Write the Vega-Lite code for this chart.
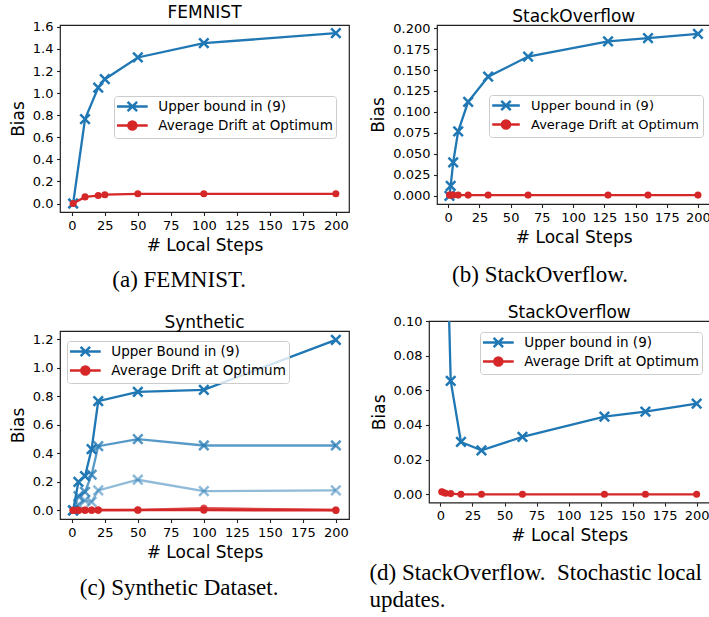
{
  "$schema": "https://vega.github.io/schema/vega-lite/v6.json",
  "background": "white",
  "padding": {"left": 8, "top": 3, "right": 0, "bottom": 0},
  "datasets": {
    "femnist": [
      {"steps": 1, "bias": 0.0, "series": "Upper bound in (9)"},
      {"steps": 10, "bias": 0.764, "series": "Upper bound in (9)"},
      {"steps": 20, "bias": 1.05, "series": "Upper bound in (9)"},
      {"steps": 25, "bias": 1.126, "series": "Upper bound in (9)"},
      {"steps": 50, "bias": 1.323, "series": "Upper bound in (9)"},
      {"steps": 100, "bias": 1.452, "series": "Upper bound in (9)"},
      {"steps": 200, "bias": 1.543, "series": "Upper bound in (9)"},
      {"steps": 1, "bias": 0.0, "series": "Average Drift at Optimum"},
      {"steps": 10, "bias": 0.06, "series": "Average Drift at Optimum"},
      {"steps": 20, "bias": 0.072, "series": "Average Drift at Optimum"},
      {"steps": 25, "bias": 0.08, "series": "Average Drift at Optimum"},
      {"steps": 50, "bias": 0.088, "series": "Average Drift at Optimum"},
      {"steps": 100, "bias": 0.088, "series": "Average Drift at Optimum"},
      {"steps": 200, "bias": 0.088, "series": "Average Drift at Optimum"}
    ],
    "stack": [
      {"steps": 1, "bias": 0.0, "series": "Upper bound in (9)"},
      {"steps": 2, "bias": 0.012, "series": "Upper bound in (9)"},
      {"steps": 4, "bias": 0.040, "series": "Upper bound in (9)"},
      {"steps": 8, "bias": 0.077, "series": "Upper bound in (9)"},
      {"steps": 16, "bias": 0.112, "series": "Upper bound in (9)"},
      {"steps": 32, "bias": 0.142, "series": "Upper bound in (9)"},
      {"steps": 64, "bias": 0.166, "series": "Upper bound in (9)"},
      {"steps": 128, "bias": 0.184, "series": "Upper bound in (9)"},
      {"steps": 160, "bias": 0.188, "series": "Upper bound in (9)"},
      {"steps": 200, "bias": 0.193, "series": "Upper bound in (9)"},
      {"steps": 1, "bias": 0.001, "series": "Average Drift at Optimum"},
      {"steps": 2, "bias": 0.001, "series": "Average Drift at Optimum"},
      {"steps": 4, "bias": 0.001, "series": "Average Drift at Optimum"},
      {"steps": 8, "bias": 0.001, "series": "Average Drift at Optimum"},
      {"steps": 16, "bias": 0.001, "series": "Average Drift at Optimum"},
      {"steps": 32, "bias": 0.001, "series": "Average Drift at Optimum"},
      {"steps": 64, "bias": 0.001, "series": "Average Drift at Optimum"},
      {"steps": 128, "bias": 0.001, "series": "Average Drift at Optimum"},
      {"steps": 160, "bias": 0.001, "series": "Average Drift at Optimum"},
      {"steps": 200, "bias": 0.001, "series": "Average Drift at Optimum"}
    ],
    "synthetic": [
      {"steps": 1, "bias": 0.0, "series": "Upper Bound in (9)", "run": "C"},
      {"steps": 5, "bias": 0.04, "series": "Upper Bound in (9)", "run": "C"},
      {"steps": 10, "bias": 0.07, "series": "Upper Bound in (9)", "run": "C"},
      {"steps": 15, "bias": 0.06, "series": "Upper Bound in (9)", "run": "C"},
      {"steps": 20, "bias": 0.14, "series": "Upper Bound in (9)", "run": "C"},
      {"steps": 50, "bias": 0.215, "series": "Upper Bound in (9)", "run": "C"},
      {"steps": 100, "bias": 0.135, "series": "Upper Bound in (9)", "run": "C"},
      {"steps": 200, "bias": 0.14, "series": "Upper Bound in (9)", "run": "C"},
      {"steps": 1, "bias": 0.0, "series": "Upper Bound in (9)", "run": "B"},
      {"steps": 5, "bias": 0.10, "series": "Upper Bound in (9)", "run": "B"},
      {"steps": 10, "bias": 0.13, "series": "Upper Bound in (9)", "run": "B"},
      {"steps": 15, "bias": 0.25, "series": "Upper Bound in (9)", "run": "B"},
      {"steps": 20, "bias": 0.45, "series": "Upper Bound in (9)", "run": "B"},
      {"steps": 50, "bias": 0.50, "series": "Upper Bound in (9)", "run": "B"},
      {"steps": 100, "bias": 0.455, "series": "Upper Bound in (9)", "run": "B"},
      {"steps": 200, "bias": 0.455, "series": "Upper Bound in (9)", "run": "B"},
      {"steps": 1, "bias": 0.0, "series": "Upper Bound in (9)", "run": "A"},
      {"steps": 5, "bias": 0.20, "series": "Upper Bound in (9)", "run": "A"},
      {"steps": 10, "bias": 0.24, "series": "Upper Bound in (9)", "run": "A"},
      {"steps": 15, "bias": 0.43, "series": "Upper Bound in (9)", "run": "A"},
      {"steps": 20, "bias": 0.765, "series": "Upper Bound in (9)", "run": "A"},
      {"steps": 50, "bias": 0.83, "series": "Upper Bound in (9)", "run": "A"},
      {"steps": 100, "bias": 0.845, "series": "Upper Bound in (9)", "run": "A"},
      {"steps": 200, "bias": 1.195, "series": "Upper Bound in (9)", "run": "A"},
      {"steps": 1, "bias": 0.002, "series": "Average Drift at Optimum", "run": "C"},
      {"steps": 5, "bias": 0.002, "series": "Average Drift at Optimum", "run": "C"},
      {"steps": 10, "bias": 0.002, "series": "Average Drift at Optimum", "run": "C"},
      {"steps": 15, "bias": 0.003, "series": "Average Drift at Optimum", "run": "C"},
      {"steps": 20, "bias": 0.003, "series": "Average Drift at Optimum", "run": "C"},
      {"steps": 50, "bias": 0.004, "series": "Average Drift at Optimum", "run": "C"},
      {"steps": 100, "bias": 0.012, "series": "Average Drift at Optimum", "run": "C"},
      {"steps": 200, "bias": 0.004, "series": "Average Drift at Optimum", "run": "C"},
      {"steps": 1, "bias": 0.001, "series": "Average Drift at Optimum", "run": "B"},
      {"steps": 5, "bias": 0.002, "series": "Average Drift at Optimum", "run": "B"},
      {"steps": 10, "bias": 0.002, "series": "Average Drift at Optimum", "run": "B"},
      {"steps": 15, "bias": 0.002, "series": "Average Drift at Optimum", "run": "B"},
      {"steps": 20, "bias": 0.003, "series": "Average Drift at Optimum", "run": "B"},
      {"steps": 50, "bias": 0.003, "series": "Average Drift at Optimum", "run": "B"},
      {"steps": 100, "bias": 0.016, "series": "Average Drift at Optimum", "run": "B"},
      {"steps": 200, "bias": 0.003, "series": "Average Drift at Optimum", "run": "B"},
      {"steps": 1, "bias": 0.0, "series": "Average Drift at Optimum", "run": "A"},
      {"steps": 5, "bias": 0.0, "series": "Average Drift at Optimum", "run": "A"},
      {"steps": 10, "bias": 0.001, "series": "Average Drift at Optimum", "run": "A"},
      {"steps": 15, "bias": 0.001, "series": "Average Drift at Optimum", "run": "A"},
      {"steps": 20, "bias": 0.002, "series": "Average Drift at Optimum", "run": "A"},
      {"steps": 50, "bias": 0.002, "series": "Average Drift at Optimum", "run": "A"},
      {"steps": 100, "bias": 0.002, "series": "Average Drift at Optimum", "run": "A"},
      {"steps": 200, "bias": 0.0, "series": "Average Drift at Optimum", "run": "A"}
    ],
    "stoch": [
      {"steps": 1, "bias": 0.6, "series": "Upper bound in (9)"},
      {"steps": 2, "bias": 0.35, "series": "Upper bound in (9)"},
      {"steps": 4, "bias": 0.18, "series": "Upper bound in (9)"},
      {"steps": 8, "bias": 0.0654, "series": "Upper bound in (9)"},
      {"steps": 16, "bias": 0.0302, "series": "Upper bound in (9)"},
      {"steps": 32, "bias": 0.0254, "series": "Upper bound in (9)"},
      {"steps": 64, "bias": 0.0331, "series": "Upper bound in (9)"},
      {"steps": 128, "bias": 0.0448, "series": "Upper bound in (9)"},
      {"steps": 160, "bias": 0.0477, "series": "Upper bound in (9)"},
      {"steps": 200, "bias": 0.0523, "series": "Upper bound in (9)"},
      {"steps": 1, "bias": 0.0015, "series": "Average Drift at Optimum"},
      {"steps": 2, "bias": 0.0012, "series": "Average Drift at Optimum"},
      {"steps": 4, "bias": 0.0006, "series": "Average Drift at Optimum"},
      {"steps": 8, "bias": 0.0004, "series": "Average Drift at Optimum"},
      {"steps": 16, "bias": 0.0, "series": "Average Drift at Optimum"},
      {"steps": 32, "bias": 0.0, "series": "Average Drift at Optimum"},
      {"steps": 64, "bias": 0.0, "series": "Average Drift at Optimum"},
      {"steps": 128, "bias": 0.0, "series": "Average Drift at Optimum"},
      {"steps": 160, "bias": 0.0, "series": "Average Drift at Optimum"},
      {"steps": 200, "bias": 0.0, "series": "Average Drift at Optimum"}
    ]
  },
  "concat": [
    {
      "title": {"text": "(a) FEMNIST.", "orient": "bottom", "anchor": "middle", "frame": "bounds", "font": "Liberation Serif", "fontSize": 23, "fontWeight": "normal", "color": "black", "offset": 15},
      "resolve": {"scale": {"color": "independent"}, "legend": {"color": "independent"}},
      "vconcat": [
        {
          "width": 289, "height": 187,
          "title": {"text": "FEMNIST", "offset": -1.3},
          "data": {"name": "femnist"},
          "encoding": {
            "x": {"field": "steps", "type": "quantitative", "scale": {"domain": [-8.95, 209.95], "nice": false, "zero": false}, "axis": {"values": [0, 25, 50, 75, 100, 125, 150, 175, 200], "title": "# Local Steps"}},
            "y": {"field": "bias", "type": "quantitative", "scale": {"domain": [-0.077, 1.617], "nice": false, "zero": false}, "axis": {"values": [0, 0.2, 0.4, 0.6, 0.8, 1.0, 1.2, 1.4, 1.6], "format": ".1f", "title": "Bias"}},
            "color": {"field": "series", "type": "nominal", "scale": {"domain": ["Upper bound in (9)", "Average Drift at Optimum"], "range": ["#1f77b4", "#d62728"]},
              "legend": {"legendX": 54, "legendY": 71,
                "encode": {"symbols": {"update": {
                  "shape": {"signal": "datum.value === 'Average Drift at Optimum' ? 'M-2.56,0L2.56,0M0.667,0A0.667,0.667,0,1,1,-0.667,0A0.667,0.667,0,1,1,0.667,0Z' : 'M-2.56,0L2.56,0M-0.79,-0.79L0.79,0.79M-0.79,0.79L0.79,-0.79'"},
                  "fill": {"signal": "datum.value === 'Average Drift at Optimum' ? '#d62728' : 'transparent'"},
                  "stroke": {"signal": "datum.value === 'Average Drift at Optimum' ? '#d62728' : '#1f77b4'"},
                  "x": {"value": 15.35}, "opacity": {"value": 1}}}}}}
          },
          "layer": [
            {"transform": [{"filter": "datum.series === 'Upper bound in (9)'"}], "mark": {"type": "line", "strokeWidth": 2.3}},
            {"transform": [{"filter": "datum.series === 'Upper bound in (9)'"}], "mark": {"type": "point", "shape": "M-1,-1L1,1M-1,1L1,-1", "size": 90, "filled": false, "strokeWidth": 2.5, "opacity": 1}},
            {"transform": [{"filter": "datum.series === 'Average Drift at Optimum'"}], "mark": {"type": "line", "strokeWidth": 2.3}},
            {"transform": [{"filter": "datum.series === 'Average Drift at Optimum'"}], "mark": {"type": "point", "shape": "circle", "size": 50, "filled": true, "opacity": 1}}
          ]
        }
      ]
    },
    {
      "title": {"text": "(b) StackOverflow.", "orient": "bottom", "anchor": "middle", "frame": "bounds", "font": "Liberation Serif", "fontSize": 23, "fontWeight": "normal", "color": "black", "offset": 18},
      "resolve": {"scale": {"color": "independent"}, "legend": {"color": "independent"}},
      "vconcat": [
        {
          "width": 273.4, "height": 179,
          "title": {"text": "StackOverflow", "offset": -3.5},
          "data": {"name": "stack"},
          "encoding": {
            "x": {"field": "steps", "type": "quantitative", "scale": {"domain": [-8.95, 209.95], "nice": false, "zero": false}, "axis": {"values": [0, 25, 50, 75, 100, 125, 150, 175, 200], "title": "# Local Steps"}},
            "y": {"field": "bias", "type": "quantitative", "scale": {"domain": [-0.0096, 0.2036], "nice": false, "zero": false}, "axis": {"values": [0, 0.025, 0.05, 0.075, 0.1, 0.125, 0.15, 0.175, 0.2], "format": ".3f", "title": "Bias"}},
            "color": {"field": "series", "type": "nominal", "scale": {"domain": ["Upper bound in (9)", "Average Drift at Optimum"], "range": ["#1f77b4", "#d62728"]},
              "legend": {"legendX": 52, "legendY": 70, "labelFontSize": 13, "labelOffset": 24,
                "encode": {"symbols": {"update": {
                  "shape": {"signal": "datum.value === 'Average Drift at Optimum' ? 'M-2.3,0L2.3,0M0.667,0A0.667,0.667,0,1,1,-0.667,0A0.667,0.667,0,1,1,0.667,0Z' : 'M-2.3,0L2.3,0M-0.79,-0.79L0.79,0.79M-0.79,0.79L0.79,-0.79'"},
                  "fill": {"signal": "datum.value === 'Average Drift at Optimum' ? '#d62728' : 'transparent'"},
                  "stroke": {"signal": "datum.value === 'Average Drift at Optimum' ? '#d62728' : '#1f77b4'"},
                  "x": {"value": 14}, "opacity": {"value": 1}}}}}}
          },
          "layer": [
            {"transform": [{"filter": "datum.series === 'Upper bound in (9)'"}], "mark": {"type": "line", "strokeWidth": 2.3}},
            {"transform": [{"filter": "datum.series === 'Upper bound in (9)'"}], "mark": {"type": "point", "shape": "M-1,-1L1,1M-1,1L1,-1", "size": 90, "filled": false, "strokeWidth": 2.5, "opacity": 1}},
            {"transform": [{"filter": "datum.series === 'Average Drift at Optimum'"}], "mark": {"type": "line", "strokeWidth": 2.3}},
            {"transform": [{"filter": "datum.series === 'Average Drift at Optimum'"}], "mark": {"type": "point", "shape": "circle", "size": 50, "filled": true, "opacity": 1}}
          ]
        }
      ]
    },
    {
      "title": {"text": "(c) Synthetic Dataset.", "orient": "bottom", "anchor": "middle", "frame": "bounds", "font": "Liberation Serif", "fontSize": 23, "fontWeight": "normal", "color": "black", "offset": 16},
      "resolve": {"scale": {"color": "independent", "opacity": "independent"}, "legend": {"color": "independent"}},
      "vconcat": [
        {
          "width": 289, "height": 188,
          "title": {"text": ["", "Synthetic"], "lineHeight": 10, "offset": -1.5},
          "data": {"name": "synthetic"},
          "encoding": {
            "x": {"field": "steps", "type": "quantitative", "scale": {"domain": [-8.95, 209.95], "nice": false, "zero": false}, "axis": {"values": [0, 25, 50, 75, 100, 125, 150, 175, 200], "title": "# Local Steps"}},
            "y": {"field": "bias", "type": "quantitative", "scale": {"domain": [-0.06, 1.257], "nice": false, "zero": false}, "axis": {"values": [0, 0.2, 0.4, 0.6, 0.8, 1.0, 1.2], "format": ".1f", "title": "Bias"}},
            "color": {"field": "series", "type": "nominal", "scale": {"domain": ["Upper Bound in (9)", "Average Drift at Optimum"], "range": ["#1f77b4", "#d62728"]},
              "legend": {"legendX": 7, "legendY": 10,
                "encode": {"symbols": {"update": {
                  "shape": {"signal": "datum.value === 'Average Drift at Optimum' ? 'M-2.56,0L2.56,0M0.667,0A0.667,0.667,0,1,1,-0.667,0A0.667,0.667,0,1,1,0.667,0Z' : 'M-2.56,0L2.56,0M-0.79,-0.79L0.79,0.79M-0.79,0.79L0.79,-0.79'"},
                  "fill": {"signal": "datum.value === 'Average Drift at Optimum' ? '#d62728' : 'transparent'"},
                  "stroke": {"signal": "datum.value === 'Average Drift at Optimum' ? '#d62728' : '#1f77b4'"},
                  "x": {"value": 15.35}, "opacity": {"value": 1}}}}}},
            "opacity": {"field": "run", "type": "nominal", "scale": {"domain": ["A", "B", "C"], "range": [1, 0.5, 0.22]}, "legend": null},
            "detail": {"field": "run"}
          },
          "layer": [
            {"transform": [{"filter": "datum.series === 'Upper Bound in (9)'"}], "mark": {"type": "line", "strokeWidth": 2.3}},
            {"transform": [{"filter": "datum.series === 'Upper Bound in (9)'"}], "mark": {"type": "point", "shape": "M-1,-1L1,1M-1,1L1,-1", "size": 90, "filled": false, "strokeWidth": 2.5}},
            {"transform": [{"filter": "datum.series === 'Average Drift at Optimum'"}], "mark": {"type": "line", "strokeWidth": 2.3}},
            {"transform": [{"filter": "datum.series === 'Average Drift at Optimum'"}], "mark": {"type": "point", "shape": "circle", "size": 50, "filled": true}}
          ]
        }
      ]
    },
    {
      "title": {"text": ["(d) StackOverflow.\u00a0\u00a0Stochastic local", "updates."], "orient": "bottom", "anchor": "start", "frame": "bounds", "font": "Liberation Serif", "fontSize": 23, "fontWeight": "normal", "color": "black", "offset": 18, "lineHeight": 27},
      "resolve": {"scale": {"color": "independent"}, "legend": {"color": "independent"}},
      "vconcat": [
        {
          "width": 280.4, "height": 181.6,
          "title": {"text": "StackOverflow", "offset": -6.6},
          "data": {"name": "stoch"},
          "encoding": {
            "x": {"field": "steps", "type": "quantitative", "scale": {"domain": [-8.95, 209.95], "nice": false, "zero": false}, "axis": {"values": [0, 25, 50, 75, 100, 125, 150, 175, 200], "title": "# Local Steps"}},
            "y": {"field": "bias", "type": "quantitative", "scale": {"domain": [-0.0048, 0.1], "nice": false, "zero": false}, "axis": {"values": [0, 0.02, 0.04, 0.06, 0.08, 0.1], "format": ".2f", "title": "Bias"}},
            "color": {"field": "series", "type": "nominal", "scale": {"domain": ["Upper bound in (9)", "Average Drift at Optimum"], "range": ["#1f77b4", "#d62728"]},
              "legend": {"legendX": 51, "legendY": 11,
                "encode": {"symbols": {"update": {
                  "shape": {"signal": "datum.value === 'Average Drift at Optimum' ? 'M-2.56,0L2.56,0M0.667,0A0.667,0.667,0,1,1,-0.667,0A0.667,0.667,0,1,1,0.667,0Z' : 'M-2.56,0L2.56,0M-0.79,-0.79L0.79,0.79M-0.79,0.79L0.79,-0.79'"},
                  "fill": {"signal": "datum.value === 'Average Drift at Optimum' ? '#d62728' : 'transparent'"},
                  "stroke": {"signal": "datum.value === 'Average Drift at Optimum' ? '#d62728' : '#1f77b4'"},
                  "x": {"value": 15.35}, "opacity": {"value": 1}}}}}}
          },
          "layer": [
            {"transform": [{"filter": "datum.series === 'Upper bound in (9)'"}], "mark": {"type": "line", "strokeWidth": 2.3, "clip": true}},
            {"transform": [{"filter": "datum.series === 'Upper bound in (9)'"}], "mark": {"type": "point", "shape": "M-1,-1L1,1M-1,1L1,-1", "size": 90, "filled": false, "strokeWidth": 2.5, "opacity": 1, "clip": true}},
            {"transform": [{"filter": "datum.series === 'Average Drift at Optimum'"}], "mark": {"type": "line", "strokeWidth": 2.3, "clip": true}},
            {"transform": [{"filter": "datum.series === 'Average Drift at Optimum'"}], "mark": {"type": "point", "shape": "circle", "size": 50, "filled": true, "opacity": 1, "clip": true}}
          ]
        }
      ]
    }
  ],
  "columns": 2,
  "align": "none",
  "spacing": {"row": 11, "column": 19},
  "resolve": {"scale": {"color": "independent", "opacity": "independent"}, "legend": {"color": "independent"}},
  "config": {
    "font": "DejaVu Sans",
    "view": {"stroke": "#222", "strokeWidth": 1.2},
    "title": {"font": "DejaVu Sans", "fontSize": 17, "fontWeight": "normal", "color": "black", "offset": 3},
    "axis": {"labelFont": "DejaVu Sans", "labelFontSize": 13, "labelColor": "black", "titleFont": "DejaVu Sans", "titleFontSize": 17, "titleFontWeight": "normal", "titleColor": "black", "tickColor": "#222", "tickSize": 3.5, "tickWidth": 1.1, "labelPadding": 3.5, "titlePadding": 5, "grid": false, "domain": false, "labelFlush": false, "labelOverlap": false},
    "legend": {"orient": "none", "title": null, "labelFont": "DejaVu Sans", "labelFontSize": 13.5, "labelColor": "black", "labelLimit": 400, "fillColor": "rgba(255,255,255,0.8)", "strokeColor": "#cccccc", "cornerRadius": 3, "padding": 3, "symbolSize": 144, "symbolStrokeWidth": 2.5, "labelOffset": 26.3, "rowPadding": -1, "symbolType": "stroke"}
  }
}
